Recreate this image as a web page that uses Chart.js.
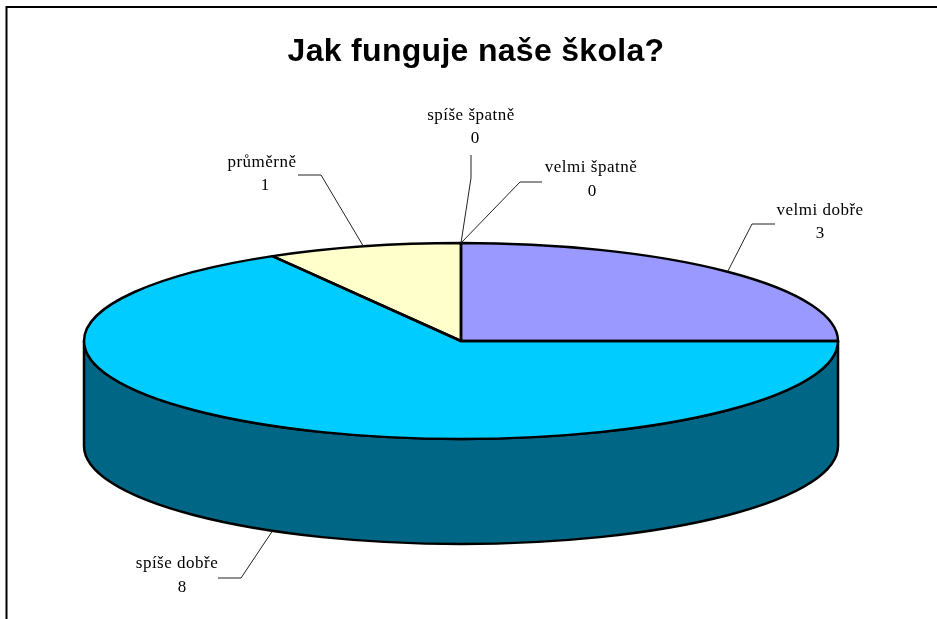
<!DOCTYPE html>
<html>
<head>
<meta charset="utf-8">
<style>html,body{margin:0;padding:0;background:#fff}canvas{display:block}</style>
<script src="https://cdn.jsdelivr.net/npm/chart.js@4"></script>
</head>
<body>
<canvas id="c" width="937" height="619"></canvas>
<script>
const titleText = 'Jak funguje naše škola?';
const categories = ['velmi dobře', 'spíše dobře', 'průměrně', 'spíše špatně', 'velmi špatně'];
const values = [3, 8, 1, 0, 0];
const topColors = ['#9999FF', '#00CCFF', '#FFFFCC', '#CCFFFF', '#660066'];
const sideColor = '#006685';

const disc = { cx: 461, cy: 341, rx: 377, ry: 98, depth: 105 };
// elbow of each leader line and the centres of its two label lines
const callouts = [
  { elbow: [752, 224], end: [775, 224], name: [820, 211], num: [820, 234] },
  { elbow: [241, 578], end: [218, 578], name: [177, 564], num: [182, 588] },
  { elbow: [321, 175], end: [298, 175], name: [262, 163], num: [265, 186] },
  { elbow: [471, 178], end: [471, 155], name: [471, 116], num: [475, 139] },
  { elbow: [520, 182], end: [542, 182], name: [591, 168], num: [592, 192] }
];

function discTransform(ctx, arc) {
  ctx.translate(disc.cx, disc.cy);
  ctx.scale(disc.rx / arc.outerRadius, disc.ry / arc.outerRadius);
  ctx.translate(-arc.x, -arc.y);
}

const pie3d = {
  id: 'pie3d',
  beforeDraw(chart) {
    const ctx = chart.ctx;
    ctx.save();
    ctx.strokeStyle = '#000';
    ctx.lineWidth = 2;
    ctx.beginPath();
    ctx.moveTo(6.5, 619);
    ctx.lineTo(6.5, 7);
    ctx.lineTo(937, 7);
    ctx.stroke();
    ctx.restore();
    ctx.letterSpacing = '0.3px';
  },
  beforeDatasetsDraw(chart) {
    const ctx = chart.ctx;
    ctx.letterSpacing = '0px';
    const { cx, cy, rx, ry, depth } = disc;
    ctx.save();
    ctx.beginPath();
    ctx.moveTo(cx - rx, cy);
    ctx.ellipse(cx, cy + depth, rx, ry, 0, Math.PI, 0, true);
    ctx.lineTo(cx + rx, cy);
    ctx.ellipse(cx, cy, rx, ry, 0, 0, Math.PI, false);
    ctx.closePath();
    ctx.fillStyle = sideColor;
    ctx.fill();
    ctx.strokeStyle = '#000';
    ctx.lineWidth = 2.5;
    ctx.lineJoin = 'round';
    ctx.stroke();
    ctx.restore();

    ctx.save();
    discTransform(ctx, chart.getDatasetMeta(0).data[0]);
  },
  afterDatasetsDraw(chart) {
    const ctx = chart.ctx;
    ctx.restore();
    const arcs = chart.getDatasetMeta(0).data;

    arcs.forEach((arc, i) => {
      if (!values[i]) return;
      ctx.save();
      ctx.save();
      discTransform(ctx, arc);
      ctx.beginPath();
      ctx.moveTo(arc.x, arc.y);
      ctx.arc(arc.x, arc.y, arc.outerRadius, arc.startAngle, arc.endAngle);
      ctx.closePath();
      ctx.restore();
      ctx.strokeStyle = '#000';
      ctx.lineWidth = 2.5;
      ctx.lineJoin = 'round';
      ctx.stroke();
      ctx.restore();
    });

    arcs.forEach((arc, i) => {
      const mid = (arc.startAngle + arc.endAngle) / 2;
      const sin = Math.sin(mid);
      const c = callouts[i];
      const sx = disc.cx + disc.rx * Math.cos(mid);
      const sy = disc.cy + disc.ry * sin + (sin > 0 ? disc.depth : 0);
      ctx.save();
      ctx.strokeStyle = '#222';
      ctx.lineWidth = 1;
      ctx.beginPath();
      ctx.moveTo(sx, sy);
      ctx.lineTo(c.elbow[0], c.elbow[1]);
      ctx.lineTo(c.end[0], c.end[1]);
      ctx.stroke();
      ctx.fillStyle = '#000';
      ctx.font = '17px "Liberation Serif"';
      ctx.letterSpacing = '0.5px';
      ctx.textAlign = 'center';
      ctx.textBaseline = 'middle';
      ctx.fillText(categories[i], c.name[0], c.name[1]);
      ctx.letterSpacing = '0px';
      ctx.fillText(String(values[i]), c.num[0], c.num[1]);
      ctx.restore();
    });
  }
};

new Chart(document.getElementById('c'), {
  type: 'pie',
  data: {
    labels: categories,
    datasets: [{ data: values, backgroundColor: topColors, borderWidth: 0 }]
  },
  options: {
    responsive: false,
    animation: false,
    layout: { padding: { left: 15, right: 0, top: 0, bottom: 0 } },
    plugins: {
      legend: { display: false },
      tooltip: { enabled: false },
      title: {
        display: true,
        text: titleText,
        color: '#000',
        font: { family: '"Liberation Sans"', size: 32, weight: 'bold' },
        padding: { top: 33, bottom: 10 }
      }
    }
  },
  plugins: [pie3d]
});
</script>
</body>
</html>
